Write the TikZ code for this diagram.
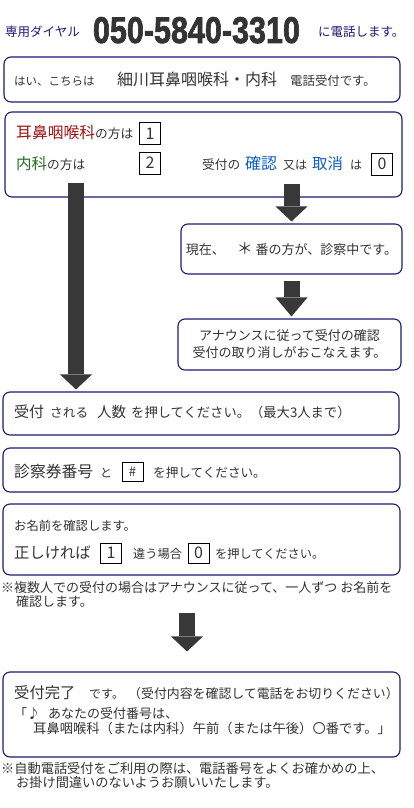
\documentclass[tikz,border=0pt]{standalone}
\usepackage{fontspec}
\setmainfont{Noto Sans CJK JP}
\newfontfamily\telfont{Liberation Sans}[BoldFeatures={FakeBold=2}]
\usetikzlibrary{arrows.meta}
\definecolor{TelNavy}{HTML}{1B1B72}
\definecolor{TelInk}{HTML}{333333}
\definecolor{TelArrow}{HTML}{383838}
\definecolor{TelRed}{HTML}{A01414}
\definecolor{TelGreen}{HTML}{247024}
\definecolor{TelBlue}{HTML}{1060C0}
\newcommand\jsz[1]{\fontsize{#1}{#1}\selectfont}

\begin{document}
\begin{tikzpicture}[x=1pt, y=-1pt,
  panel/.style={draw=TelNavy, line width=1.1pt, rounded corners=7pt, inner sep=0pt, text=TelInk},
  txt/.style={anchor=base west, inner sep=0pt, text=TelInk},
  keybox/.style={draw=black, line width=0.7pt, inner sep=0pt, minimum width=21pt, minimum height=22pt, text=TelInk, font=\jsz{16}},
  flow/.style={draw=TelArrow, line width=16pt, -{Triangle[width=32pt,length=15pt,line width=0pt]}}]
  \useasboundingbox[fill=white] (0,0) rectangle (414,808);

  % header: dial number
  \node[txt, text=TelNavy, font=\jsz{12.5}] (dialtag) at (5,37) {専用ダイヤル};
  \node[anchor=base, inner sep=0pt, text=TelInk] (telno) at (196.5,43) {\resizebox{207pt}{26pt}{\telfont\bfseries 050-5840-3310}};
  \node[txt, text=TelNavy, font=\jsz{12.5}] (dialend) at (318,37) {に電話します。};

  % greeting
  \node[panel, minimum width=396pt, minimum height=45pt] (greet) at (202,79.5) {};
  \node[txt, font=\jsz{11.5}] (greeta) at (14,85) {はい、こちらは};
  \node[txt, font=\jsz{16}] (greetb) at (117,85) {細川耳鼻咽喉科・内科};
  \node[txt, font=\jsz{12.4}] (greetc) at (290,85) {電話受付です。};

  % department menu
  \node[panel, minimum width=397pt, minimum height=85pt] (menu) at (203.5,154.5) {};
  \node[txt] (entline) at (16,138) {\textcolor{TelRed}{\jsz{15.8}耳鼻咽喉科}{\jsz{12.7}の方は}};
  \node[keybox] (key1) at (150,133.5) {1};
  \node[txt] (intline) at (16,169) {\textcolor{TelGreen}{\jsz{15.5}内科}{\jsz{12.7}の方は}};
  \node[keybox] (key2) at (150,163) {2};
  \node[txt, font=\jsz{12.7}] (chka) at (202,169) {受付の};
  \node[txt, font=\jsz{16}, text=TelBlue] (chkb) at (245,169) {確認};
  \node[txt, font=\jsz{12}] (chkc) at (283,169) {又は};
  \node[txt, font=\jsz{15.5}, text=TelBlue] (chkd) at (312,169) {取消};
  \node[txt, font=\jsz{12}] (chke) at (350,169) {は};
  \node[keybox] (key0) at (382,164) {0};

  % check / cancel branch
  \node[panel, minimum width=221pt, minimum height=50pt, font=\jsz{13}] (busy) at (291.5,249)
    {現在、\hspace{12pt}{\jsz{16}＊} 番の方が、診察中です。};
  \node[panel, minimum width=223pt, minimum height=51pt, align=center, font=\fontsize{13}{17}\selectfont] (announce) at (289.5,344.5)
    {アナウンスに従って受付の確認\\受付の取り消しがおこなえます。};
  \coordinate (rtop) at (291.5,184);
  \draw[flow, shorten >=2pt] (rtop) -- (busy.north);
  \draw[flow, shorten <=6pt, shorten >=2pt, -{Triangle[width=32pt,length=19pt,line width=0pt]}] (busy.south) -- (busy.south |- announce.north);

  % number of persons
  \node[panel, minimum width=396pt, minimum height=43pt] (count) at (201,413.5) {};
  \node[txt, font=\jsz{15}] (cnta) at (14,417) {受付};
  \node[txt, font=\jsz{12.7}] (cntb) at (50,417) {される};
  \node[txt, font=\jsz{14.5}] (cntc) at (97,417) {人数};
  \node[txt, font=\jsz{13.3}] (cntd) at (131,417) {を押してください。（最大3人まで）};
  \coordinate (ltop) at (76,183);
  \draw[flow, shorten >=2pt] (ltop) -- (ltop |- count.north);

  % card number
  \node[panel, minimum width=397pt, minimum height=44pt] (card) at (201.5,470) {};
  \node[txt, font=\jsz{15.8}] (carda) at (14,477) {診察券番号};
  \node[txt, font=\jsz{12}] (cardb) at (100,477) {と};
  \node[keybox, minimum height=19pt, font=\jsz{13}] (keyhash) at (132.5,471.5) {\#};
  \node[txt, font=\jsz{12.6}] (cardc) at (153,477) {を押してください。};

  % name check
  \node[panel, minimum width=397pt, minimum height=71pt] (name) at (201.5,539.5) {};
  \node[txt, font=\jsz{12.3}] (namea) at (14,530.5) {お名前を確認します。};
  \node[txt, font=\jsz{15.3}] (nameb) at (14,558) {正しければ};
  \node[keybox, minimum height=20pt] (keyok) at (111,553) {1};
  \node[txt, font=\jsz{12.2}] (namec) at (133,558) {違う場合};
  \node[keybox, minimum height=20pt] (keyng) at (198.5,553) {0};
  \node[txt, font=\jsz{12.2}] (named) at (215,558) {を押してください。};
  \node[txt, font=\jsz{13}] (notea) at (1,592) {※複数人での受付の場合はアナウンスに従って、一人ずつ お名前を};
  \node[txt, font=\jsz{13}] (noteb) at (16,606) {確認します。};

  % done
  \node[panel, minimum width=397pt, minimum height=85pt] (done) at (201.5,714.5) {};
  \coordinate (btop) at (187,613);
  \draw[flow, shorten >=20pt] (btop) -- (btop |- done.north);
  \node[txt, font=\jsz{15.3}] (donea) at (14,698) {受付完了};
  \node[txt, font=\jsz{12}] (doneb) at (89,698) {です。};
  \node[txt, font=\jsz{12.9}] (donec) at (128,698) {（受付内容を確認して電話をお切りください）};
  \node[txt, font=\jsz{13}] (doned) at (14,718) {「♪\hspace{8pt}あなたの受付番号は、};
  \node[txt, font=\jsz{13.3}] (donee) at (33,733) {耳鼻咽喉科（または内科）午前（または午後）〇番です。」};
  \node[txt, font=\jsz{13.2}] (notec) at (1,773) {※自動電話受付をご利用の際は、電話番号をよくお確かめの上、};
  \node[txt, font=\jsz{13.2}] (noted) at (16,787) {お掛け間違いのないようお願いいたします。};
\end{tikzpicture}
\end{document}
